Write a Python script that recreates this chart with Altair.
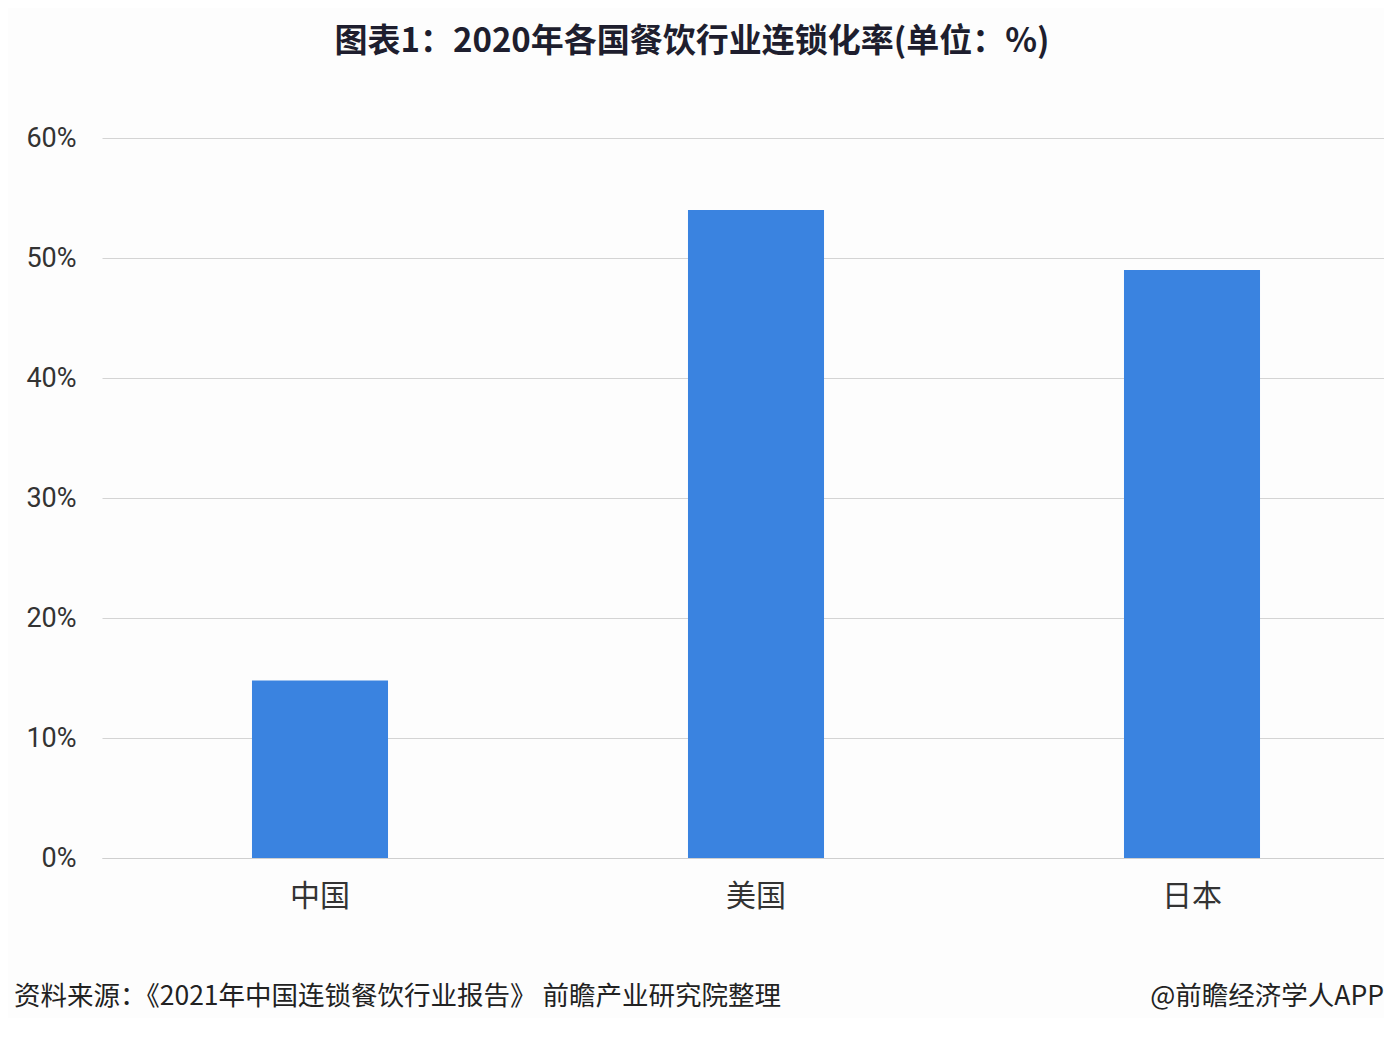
import altair as alt
import pandas as pd

countries = ["中国", "美国", "日本"]
rates = [14.8, 54.0, 49.0]
y_ticks = [0, 10, 20, 30, 40, 50, 60]
title_text = "图表1：2020年各国餐饮行业连锁化率(单位：%)"
source_text = "资料来源：《2021年中国连锁餐饮行业报告》 前瞻产业研究院整理"
credit_text = "@前瞻经济学人APP"

df = pd.DataFrame({"country": countries, "rate": rates})

CJK = "Noto Sans CJK SC"
NUM = "Liberation Sans Narrow, Roboto, Noto Sans CJK SC"

bars = alt.Chart(df).mark_bar(color="#3a83e0").encode(
    x=alt.X(
        "country:N",
        sort=countries,
        scale=alt.Scale(range=[0, 1308], paddingInner=0.688, paddingOuter=0.344),
        axis=alt.Axis(
            title=None, labelAngle=0, labelFont=CJK, labelFontSize=30,
            labelColor="#333333", labelPadding=23, ticks=False,
            domain=True, domainColor="#cfcfcf", grid=False,
        ),
    ),
    y=alt.Y(
        "rate:Q",
        scale=alt.Scale(domain=[0, 60], nice=False),
        axis=alt.Axis(
            title=None, values=y_ticks, labelExpr="datum.value + '%'",
            labelFont=NUM, labelFontSize=27, labelColor="#333333",
            labelPadding=26, ticks=False, domain=False,
            grid=True, gridColor="#d4d4d4", gridWidth=1,
        ),
    ),
)

src_df = pd.DataFrame({"t": [source_text]})
cred_df = pd.DataFrame({"t": [credit_text]})

src = alt.Chart(src_df).mark_text(
    align="left", baseline="middle", font=CJK, fontSize=26.5, color="#222222"
).encode(text="t:N", x=alt.value(-88), y=alt.value(859))

cred = alt.Chart(cred_df).mark_text(
    align="right", baseline="middle", font=CJK, fontSize=26.5, color="#222222"
).encode(text="t:N", x=alt.value(1282), y=alt.value(859))

chart = alt.layer(bars, src, cred).properties(
    width=1282,
    height=720,
    autosize=alt.AutoSizeParams(type="none"),
    padding={"left": 94, "top": 130, "right": 0, "bottom": 160},
    background="#fdfdfd",
    title=alt.TitleParams(
        text=title_text, font=CJK, fontSize=33, fontWeight="bold",
        color="#1e1e2e", anchor="middle", dx=-51, offset=65,
    ),
).configure_view(stroke=None)

chart.save("out.html", embed_options={"renderer": "svg", "actions": False})
